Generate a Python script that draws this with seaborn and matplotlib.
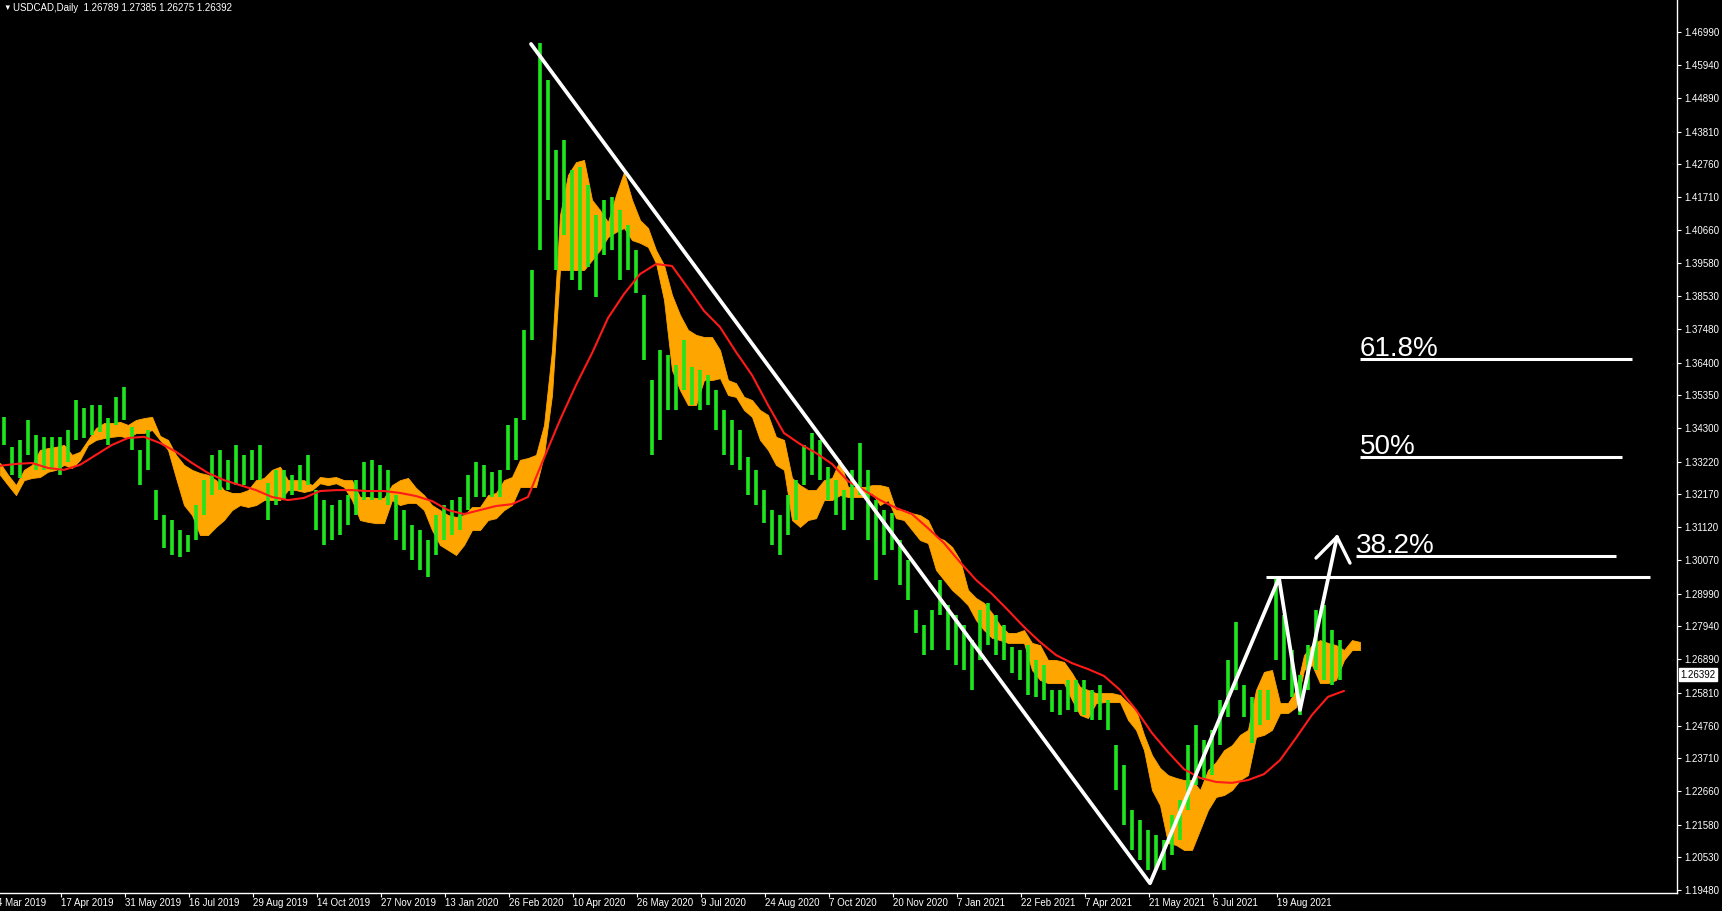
import numpy as np
import pandas as pd
import matplotlib
matplotlib.use("Agg")
import matplotlib.pyplot as plt
import seaborn as sns

# USDCAD daily, one entry per 4 trading days (high / low of the group)
bar_high = [1.3466, 1.3370, 1.3392, 1.3456, 1.3408, 1.3402, 1.3402, 1.3402, 1.3424, 1.3520,
            1.3494, 1.3504, 1.3504, 1.3462, 1.3530, 1.3562, 1.3434, 1.3360, 1.3424, 1.3231,
            1.3151, 1.3135, 1.3103, 1.3087, 1.3183, 1.3263, 1.3344, 1.3360, 1.3328, 1.3376,
            1.3344, 1.3360, 1.3376, 1.3253, 1.3296, 1.3296, 1.3280, 1.3312, 1.3344, 1.3231,
            1.3199, 1.3183, 1.3199, 1.3215, 1.3263, 1.3322, 1.3328, 1.3312, 1.3296, 1.3215,
            1.3167, 1.3119, 1.3103, 1.3071, 1.3151, 1.3183, 1.3199, 1.3209, 1.3280, 1.3322,
            1.3312, 1.3290, 1.3296, 1.3440, 1.3462, 1.3745, 1.3937, 1.4665, 1.4546, 1.4322,
            1.4354, 1.4258, 1.4268, 1.4210, 1.4113, 1.4162, 1.4171, 1.4129, 1.4081, 1.4001,
            1.3857, 1.3584, 1.3680, 1.3664, 1.3632, 1.3712, 1.3626, 1.3616, 1.3600, 1.3552,
            1.3488, 1.3456, 1.3424, 1.3338, 1.3296, 1.3231, 1.3167, 1.3151, 1.3215, 1.3263,
            1.3376, 1.3414, 1.3392, 1.3306, 1.3263, 1.3231, 1.3296, 1.3382, 1.3296, 1.3199,
            1.3167, 1.3157, 1.3071, 1.3007, 1.2846, 1.2798, 1.2846, 1.2943, 1.2862, 1.2830,
            1.2798, 1.2750, 1.2846, 1.2869, 1.2830, 1.2798, 1.2728, 1.2718, 1.2734, 1.2686,
            1.2670, 1.2590, 1.2590, 1.2622, 1.2622, 1.2622, 1.2590, 1.2606, 1.2558, 1.2413,
            1.2349, 1.2205, 1.2173, 1.2141, 1.2125, 1.2109, 1.2189, 1.2237, 1.2413, 1.2478,
            1.2430, 1.2462, 1.2558, 1.2686, 1.2808, 1.2606, 1.2568, 1.2590, 1.2590, 1.2948,
            1.2830, 1.2718, 1.2638, 1.2734, 1.2846, 1.2862, 1.2782, 1.2750]
bar_low = [1.3376, 1.3280, 1.3270, 1.3344, 1.3296, 1.3296, 1.3296, 1.3280, 1.3322, 1.3392,
           1.3398, 1.3408, 1.3418, 1.3376, 1.3440, 1.3456, 1.3360, 1.3247, 1.3296, 1.3135,
           1.3045, 1.3023, 1.3017, 1.3033, 1.3071, 1.3151, 1.3215, 1.3231, 1.3231, 1.3247,
           1.3247, 1.3263, 1.3263, 1.3135, 1.3183, 1.3199, 1.3215, 1.3231, 1.3247, 1.3103,
           1.3055, 1.3071, 1.3087, 1.3119, 1.3151, 1.3199, 1.3199, 1.3199, 1.3183, 1.3071,
           1.3039, 1.3007, 1.2975, 1.2953, 1.3023, 1.3071, 1.3087, 1.3103, 1.3167, 1.3209,
           1.3209, 1.3209, 1.3209, 1.3296, 1.3328, 1.3456, 1.3712, 1.4001, 1.4162, 1.3937,
           1.4049, 1.3905, 1.3873, 1.3947, 1.3851, 1.3985, 1.4001, 1.3905, 1.3937, 1.3863,
           1.3648, 1.3344, 1.3392, 1.3488, 1.3488, 1.3552, 1.3504, 1.3488, 1.3504, 1.3424,
           1.3344, 1.3312, 1.3296, 1.3215, 1.3183, 1.3125, 1.3055, 1.3023, 1.3087, 1.3135,
           1.3247, 1.3280, 1.3263, 1.3199, 1.3151, 1.3103, 1.3135, 1.3215, 1.3071, 1.2943,
           1.3023, 1.3039, 1.2927, 1.2879, 1.2772, 1.2702, 1.2718, 1.2830, 1.2718, 1.2670,
           1.2654, 1.2590, 1.2686, 1.2734, 1.2702, 1.2686, 1.2644, 1.2622, 1.2574, 1.2568,
           1.2558, 1.2520, 1.2510, 1.2526, 1.2520, 1.2510, 1.2494, 1.2494, 1.2462, 1.2269,
           1.2157, 1.2077, 1.2045, 1.2013, 1.2013, 1.2013, 1.2061, 1.2109, 1.2205, 1.2285,
           1.2301, 1.2317, 1.2413, 1.2504, 1.2590, 1.2504, 1.2420, 1.2478, 1.2494, 1.2686,
           1.2622, 1.2568, 1.2510, 1.2590, 1.2654, 1.2622, 1.2606, 1.2622]

# red moving average, one value per 8 bars
ma_values = [1.3309, 1.3315, 1.3318, 1.3302, 1.3296, 1.3312, 1.3344, 1.3376, 1.3398, 1.3402,
             1.3382, 1.3354, 1.3318, 1.3286, 1.3263, 1.3247, 1.3231, 1.3209, 1.3199, 1.3206,
             1.3228, 1.3231, 1.3231, 1.3228, 1.3228, 1.3222, 1.3212, 1.3196, 1.3167, 1.3154,
             1.3167, 1.3180, 1.3186, 1.3209, 1.3334, 1.3456, 1.3568, 1.3670, 1.3783, 1.3860,
             1.3924, 1.3956, 1.3950, 1.3879, 1.3806, 1.3754, 1.3674, 1.3600, 1.3504, 1.3414,
             1.3379, 1.3350, 1.3315, 1.3260, 1.3231, 1.3199, 1.3174, 1.3154, 1.3109, 1.3061,
             1.3000, 1.2943, 1.2898, 1.2846, 1.2792, 1.2744, 1.2702, 1.2676, 1.2657, 1.2635,
             1.2590, 1.2526, 1.2452, 1.2391, 1.2336, 1.2308, 1.2295, 1.2292, 1.2301, 1.2320,
             1.2365, 1.2436, 1.2510, 1.2568, 1.2587]

# orange cloud edges, one value per 4 bars
cloud_upper = [1.3318, 1.3280, 1.3247, 1.3296, 1.3312, 1.3360, 1.3366, 1.3370, 1.3376, 1.3344,
               1.3354, 1.3392, 1.3430, 1.3446, 1.3446, 1.3450, 1.3440, 1.3456, 1.3462, 1.3466,
               1.3405, 1.3392, 1.3344, 1.3312, 1.3296, 1.3286, 1.3280, 1.3263, 1.3231, 1.3222,
               1.3222, 1.3231, 1.3263, 1.3270, 1.3296, 1.3306, 1.3263, 1.3263, 1.3263, 1.3247,
               1.3273, 1.3270, 1.3273, 1.3263, 1.3263, 1.3209, 1.3209, 1.3206, 1.3206, 1.3247,
               1.3263, 1.3270, 1.3238, 1.3215, 1.3183, 1.3167, 1.3151, 1.3145, 1.3151, 1.3177,
               1.3177, 1.3215, 1.3222, 1.3263, 1.3273, 1.3328, 1.3334, 1.3344, 1.3440, 1.3680,
               1.4113, 1.4242, 1.4283, 1.4290, 1.4162, 1.4129, 1.4091, 1.4178, 1.4251, 1.4162,
               1.4097, 1.4072, 1.4001, 1.3953, 1.3857, 1.3793, 1.3745, 1.3729, 1.3722, 1.3722,
               1.3680, 1.3584, 1.3574, 1.3530, 1.3520, 1.3488, 1.3472, 1.3402, 1.3392, 1.3270,
               1.3247, 1.3231, 1.3231, 1.3263, 1.3270, 1.3328, 1.3241, 1.3241, 1.3241, 1.3247,
               1.3247, 1.3241, 1.3167, 1.3167, 1.3157, 1.3151, 1.3135, 1.3081, 1.3071, 1.3049,
               1.3007, 1.2911, 1.2885, 1.2869, 1.2837, 1.2798, 1.2773, 1.2773, 1.2782, 1.2741,
               1.2734, 1.2686, 1.2686, 1.2680, 1.2644, 1.2600, 1.2590, 1.2580, 1.2580, 1.2580,
               1.2574, 1.2548, 1.2526, 1.2446, 1.2381, 1.2340, 1.2317, 1.2308, 1.2301, 1.2301,
               1.2269, 1.2333, 1.2359, 1.2397, 1.2413, 1.2446, 1.2462, 1.2590, 1.2648, 1.2654,
               1.2548, 1.2548, 1.2590, 1.2702, 1.2734, 1.2750, 1.2741, 1.2734, 1.2718, 1.2750,
               1.2744]
cloud_lower = [1.3280, 1.3247, 1.3215, 1.3263, 1.3270, 1.3273, 1.3290, 1.3296, 1.3312, 1.3302,
               1.3328, 1.3376, 1.3392, 1.3398, 1.3402, 1.3405, 1.3398, 1.3414, 1.3414, 1.3424,
               1.3392, 1.3360, 1.3270, 1.3183, 1.3151, 1.3087, 1.3087, 1.3113, 1.3135, 1.3167,
               1.3183, 1.3177, 1.3183, 1.3199, 1.3199, 1.3199, 1.3231, 1.3231, 1.3225, 1.3231,
               1.3253, 1.3247, 1.3253, 1.3241, 1.3199, 1.3135, 1.3129, 1.3125, 1.3125, 1.3199,
               1.3183, 1.3190, 1.3190, 1.3167, 1.3103, 1.3055, 1.3039, 1.3023, 1.3055, 1.3103,
               1.3103, 1.3135, 1.3141, 1.3167, 1.3183, 1.3241, 1.3241, 1.3241, 1.3344, 1.3536,
               1.3937, 1.3937, 1.3937, 1.3937, 1.3969, 1.4001, 1.4043, 1.4059, 1.4072, 1.4033,
               1.4024, 1.4011, 1.3959, 1.3841, 1.3616, 1.3552, 1.3504, 1.3504, 1.3584, 1.3584,
               1.3590, 1.3536, 1.3530, 1.3488, 1.3466, 1.3392, 1.3360, 1.3312, 1.3296, 1.3135,
               1.3113, 1.3135, 1.3141, 1.3199, 1.3199, 1.3215, 1.3209, 1.3209, 1.3209, 1.3222,
               1.3183, 1.3199, 1.3141, 1.3135, 1.3103, 1.3071, 1.3061, 1.2975, 1.2943, 1.2911,
               1.2888, 1.2862, 1.2814, 1.2782, 1.2757, 1.2750, 1.2741, 1.2741, 1.2741, 1.2654,
               1.2622, 1.2612, 1.2612, 1.2612, 1.2558, 1.2510, 1.2500, 1.2548, 1.2551, 1.2551,
               1.2551, 1.2494, 1.2462, 1.2397, 1.2269, 1.2221, 1.2099, 1.2093, 1.2077, 1.2077,
               1.2141, 1.2205, 1.2247, 1.2253, 1.2269, 1.2301, 1.2317, 1.2439, 1.2446, 1.2462,
               1.2516, 1.2516, 1.2535, 1.2654, 1.2670, 1.2612, 1.2612, 1.2622, 1.2686, 1.2718,
               1.2718]

date_labels = ["4 Mar 2019", "17 Apr 2019", "31 May 2019", "16 Jul 2019", "29 Aug 2019",
               "14 Oct 2019", "27 Nov 2019", "13 Jan 2020", "26 Feb 2020", "10 Apr 2020",
               "26 May 2020", "9 Jul 2020", "24 Aug 2020", "7 Oct 2020", "20 Nov 2020",
               "7 Jan 2021", "22 Feb 2021", "7 Apr 2021", "21 May 2021", "6 Jul 2021",
               "19 Aug 2021"]
price_ticks = [1.46990, 1.45940, 1.44890, 1.43810, 1.42760, 1.41710, 1.40660, 1.39580,
               1.38530, 1.37480, 1.36400, 1.35350, 1.34300, 1.33220, 1.32170, 1.31120,
               1.30070, 1.28990, 1.27940, 1.26890, 1.25810, 1.24760, 1.23710, 1.22660,
               1.21580, 1.20530, 1.19480]

header = "USDCAD,Daily  1.26789 1.27385 1.26275 1.26392"
last_close = 1.26392

# hand-drawn analysis: swing points (bar index, price)
swing_bar = [265.5, 575, 639.5, 650, 668.5]
swing_price = [1.4662, 1.1970, 1.2949, 1.2526, 1.3081]
arrow_bar = [658, 668.5, 675]
arrow_price = [1.3013, 1.3081, 1.2997]
resistance = 1.2952
fib_labels = ["61.8%", "50%", "38.2%"]
fib_prices = [1.3651, 1.3337, 1.3020]
fib_start = [680, 680, 678]
fib_end = [816, 811, 808]

sns.set_theme(style="dark")
plt.rcParams['font.family'] = ['Liberation Sans', 'DejaVu Sans']

W, H = 1722, 911
fig = plt.figure(figsize=(W / 100, H / 100), dpi=100, facecolor='black')
ax = fig.add_axes([0, 18 / H, 1677 / W, 893 / H])
ax.set_facecolor('black')
ax.grid(False)

# cloud
cloud_x = 4 * np.arange(len(cloud_upper))
ax.fill_between(cloud_x, cloud_upper, cloud_lower, color='#FFA500', linewidth=0.6,
                edgecolor='#FFA500', zorder=1)

# price bars
bar_x = 2 + 4 * np.arange(len(bar_high))
ax.vlines(bar_x, bar_low, bar_high, color='#1EE61E', linewidth=2.6, zorder=2)

# moving average
ma = pd.DataFrame({'bar': 8 * np.arange(len(ma_values)), 'price': ma_values})
sns.lineplot(data=ma, x='bar', y='price', ax=ax, color='#FF1A1A', linewidth=1.5,
             sort=False, zorder=3)

# trend lines and arrow
ax.plot(swing_bar, swing_price, color='white', linewidth=2.7, zorder=4)
ax.plot(arrow_bar, arrow_price, color='white', linewidth=2.4, zorder=4)
ax.hlines(resistance, 633, 825, color='white', linewidth=2.2, zorder=4)

# fibonacci levels
for lab, p, x0, x1 in zip(fib_labels, fib_prices, fib_start, fib_end):
    ax.hlines(p, x0, x1, color='white', linewidth=2.2, zorder=4)
    ax.text(x0, p + 0.0010, lab, color='white', fontsize=20, va='baseline',
            ha='left', zorder=5)

ax.set_xlim(0, 838.5)
ax.set_ylim(1.19388, 1.4803)
ax.set_xlabel('')
ax.set_ylabel('')

for s in ['left', 'top']:
    ax.spines[s].set_visible(False)
for s in ['right', 'bottom']:
    ax.spines[s].set_visible(True)
    ax.spines[s].set_color('white')
    ax.spines[s].set_linewidth(1.0)

# price axis
ax.yaxis.tick_right()
ax.set_yticks(price_ticks)
ax.set_yticklabels([f"{p:.5f}" for p in price_ticks])
ax.tick_params(axis='y', which='both', left=False, right=True, colors='white',
               labelcolor='white', length=3, width=0.8, pad=2, labelsize=7)

# time axis
tick_bars = 30.5 + 32 * (np.arange(len(date_labels)) - 1)
ax.set_xticks([t for t in tick_bars if t >= 0])
ax.tick_params(axis='x', bottom=True, length=3, width=0.8, color='white',
               labelbottom=False, direction='out')
for t, lab in zip(tick_bars, date_labels):
    ax.annotate(lab, xy=(t, 0), xycoords=('data', 'axes fraction'),
                xytext=(0, -3.5), textcoords='offset points', ha='left', va='top',
                fontsize=7, color='white', annotation_clip=False)

# last price box
ax.annotate(f"{last_close:.5f}", xy=(1, last_close), xycoords=('axes fraction', 'data'),
            xytext=(2.5, 0), textcoords='offset points', ha='left', va='center',
            fontsize=7, color='black', annotation_clip=False,
            bbox=dict(boxstyle='square,pad=0.15', fc='white', ec='white'))

# header
fig.text(3 / W, 1 - 8 / H, '\u25bc', fontsize=5.5, color='white', va='center')
fig.text(13 / W, 1 - 8 / H, header, fontsize=7, color='white', va='center')

fig.savefig('out.png', dpi=100, facecolor='black')
